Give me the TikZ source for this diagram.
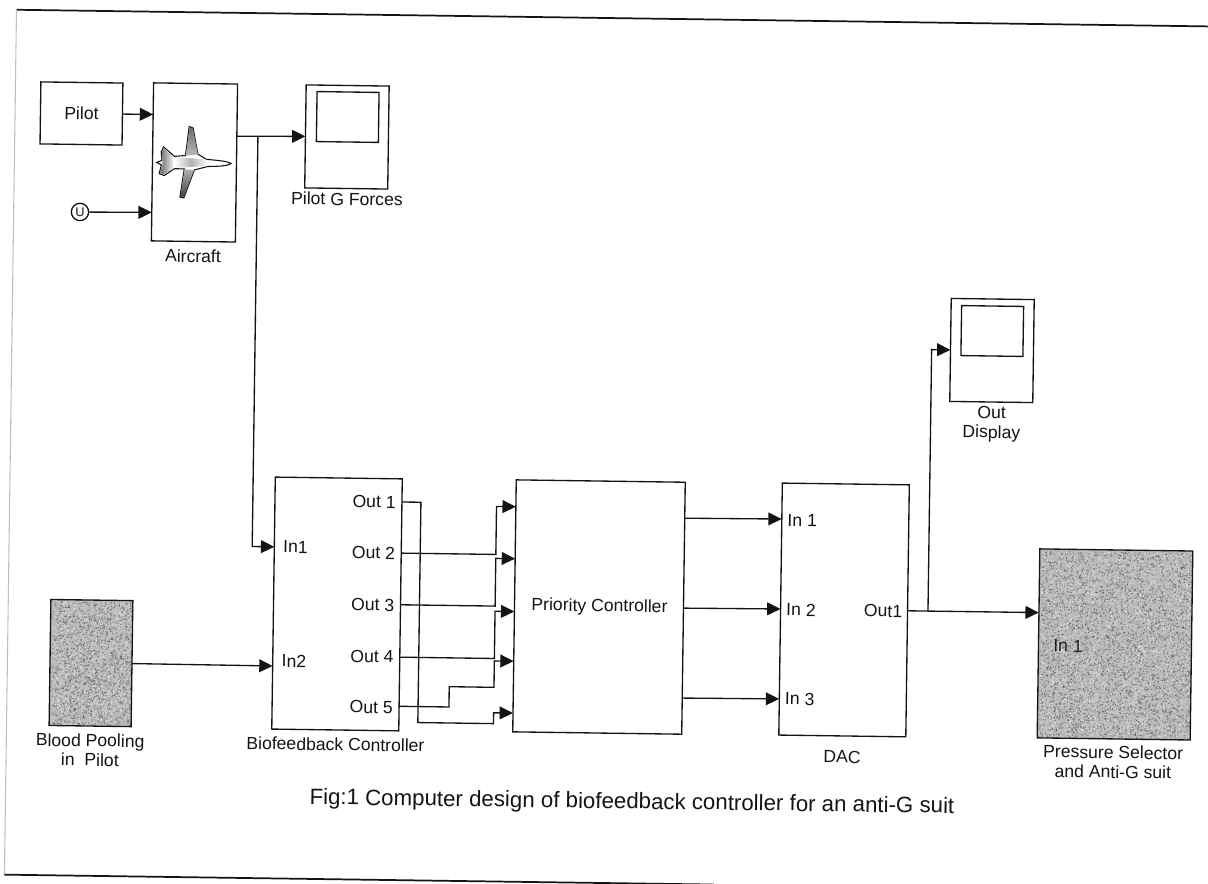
\documentclass[tikz,border=0pt]{standalone}
\usepackage{fontspec}
\setmainfont{Liberation Sans}
\usetikzlibrary{arrows.meta,calc}
\definecolor{ink}{gray}{0.08}
\tikzset{
  blockbox/.style 2 args={draw=ink,line width=1pt,fill=white,outer sep=0pt,inner sep=0pt,minimum width=#1*0.75pt,minimum height=#2*0.75pt},
  grainbox/.style 2 args={blockbox={#1}{#2},fill=gray!55},
  txt/.style={inner sep=0pt,outer sep=0pt,text=ink,align=center,font=\fontsize{13.2}{14.6}\selectfont},
  captiontext/.style={inner sep=0pt,outer sep=0pt,text=ink,font=\fontsize{16.7}{19}\selectfont},
  wire/.style={draw=ink,line width=1pt},
  sig/.style={wire,-{Triangle[length=10pt,width=9.6pt]}},
  papertop/.style={draw=ink,line width=1.3pt},
  paperleft/.style={draw=gray!50,line width=0.8pt},
}
\newcommand{\grain}[5]{% centre x, centre y, w, h, chunks of 800 dots
  \foreach \k in {1,...,#5} {
  \fill[white,opacity=.4] foreach \i in {1,...,800} {({#1+(rnd-.5)*(#3-3)},{#2+(rnd-.5)*(#4-3)}) rectangle ++(1.1,1.1)};
  \fill[black,opacity=.3] foreach \i in {1,...,800} {({#1+(rnd-.5)*(#3-3)},{#2+(rnd-.5)*(#4-3)}) rectangle ++(1.1,1.1)};
  }
}
\begin{document}
\begin{tikzpicture}[x=0.75pt,y=-0.75pt]
\useasboundingbox (0,0) rectangle (1208,884);
\clip (0,0) rectangle (1208,884);
\pgfmathsetseed{4242}
\begin{scope}[rotate around={-0.8:(604,442)},transform shape]
  % paper frame
  \draw[papertop] (1300,18) -- (10.5,18);
  \draw[paperleft] (10.5,18) -- (10.5,883);
  \draw[papertop] (10.5,883) -- (720,883);

  % blocks
  \node[blockbox={82}{62},txt] (pilot) at (76.9,120.8) {Pilot};
  \node[blockbox={84}{158}] (air) at (190.6,168.2) {};
  \node[blockbox={83}{103}] (gs) at (342.7,140.6) {};
  \node[blockbox={62}{50}] (gsin) at (343.2,120.6) {};
  \node[circle,draw=ink,line width=1pt,inner sep=0pt,outer sep=0pt,minimum size=13pt,font=\fontsize{9.5}{9.5}\selectfont,text=ink] (u) at (76.8,219.3) {U};
  \node[blockbox={127}{252}] (bio) at (339.3,607.7) {};
  \node[blockbox={169}{252}] (pri) at (601.3,607.1) {};
  \node[blockbox={127}{252}] (dac) at (846.4,606.6) {};
  \node[blockbox={83}{103}] (disp) at (990.7,345.1) {};
  \node[blockbox={62}{50}] (dispin) at (990.7,325.6) {};
  \node[grainbox={153}{189}] (press) at (1117.8,637.3) {};
  \node[grainbox={82}{126}] (blood) at (94.1,670.2) {};
  \grain{94.1}{670.2}{82}{126}{2}
  \grain{1117.8}{637.3}{153}{189}{5}

  % aircraft icon
  \begin{scope}[shift={(145.5,126.4)},x=0.25pt,y=-0.25pt]
    \path[fill=white,draw=ink,line width=0.8pt]
      (245,127) .. controls (230,118) and (190,118) .. (170,115)
      -- (145,100) -- (130,22) -- (118,18) -- (108,105) -- (75,108)
      -- (42,80) -- (35,95) -- (38,120) -- (22,127) -- (36,134)
      -- (30,160) -- (45,166) -- (75,145) -- (105,145) -- (93,230)
      -- (105,232) -- (135,148) -- (175,137)
      .. controls (200,136) and (232,136) .. (245,127) -- cycle;
    \path[top color=gray!85!black,bottom color=gray!55] (145,102) -- (130,24) -- (119,20) -- (109,105) -- cycle;
    \path[top color=gray!60,bottom color=gray!50!black] (106,146) -- (134,148) -- (104,230) -- (94,228) -- cycle;
    \path[left color=white,right color=white,middle color=gray!60] (75,110) -- (170,116) -- (175,135) -- (75,143) -- cycle;
    \path[left color=gray!85!black,right color=gray!10] (42,84) -- (72,110) -- (72,144) -- (45,163) -- (33,158) -- (40,132) -- (40,120) -- (37,95) -- cycle;
  \end{scope}

  % text in and under blocks
  \node[txt] (airl) at (190.4,261.8) {Aircraft};
  \node[txt] (gsl) at (343.6,202.6) {Pilot G Forces};
  \node[txt] (bloodl) at (94.4,757.2) {Blood Pooling\\in\ \ Pilot};
  \node[txt] (biol) at (339.7,748) {Biofeedback Controller};
  \node[txt] (in1l) at (297,551.3) {In1};
  \node[txt] (in2l) at (297,665.3) {In2};
  \node[txt] (o1l) at (375,505) {Out 1};
  \node[txt] (o2l) at (375,556) {Out 2};
  \node[txt] (o3l) at (375,608) {Out 3};
  \node[txt] (o4l) at (375,660) {Out 4};
  \node[txt] (o5l) at (375,710.3) {Out 5};
  \node[txt] (pril) at (601.8,607) {Priority Controller};
  \node[txt] (d1l) at (803.3,518) {In 1};
  \node[txt] (d2l) at (803.3,607.2) {In 2};
  \node[txt] (d3l) at (803.3,696.3) {In 3};
  \node[txt] (dol) at (885.4,607) {Out1};
  \node[txt] (dacl) at (846.4,753.6) {DAC};
  \node[txt] (displ) at (991.2,418.6) {Out\\Display};
  \node[txt] (pressl) at (1117.5,754.9) {Pressure Selector\\and Anti-G suit};
  \node[txt,text=gray!25!black] (presin) at (1070.9,639.5) {In 1};
  \node[captiontext] (caption) at (637,802.6) {Fig:1 Computer design of biofeedback controller for an anti-G suit};

  % ports
  \coordinate (a1) at ($(air.north west)!0.2!(air.south west)$);
  \coordinate (a2) at ($(air.north west)!0.82!(air.south west)$);
  \coordinate (aout) at ($(air.north east)!0.33!(air.south east)$);
  \coordinate (in1) at ($(bio.north west)!0.277!(bio.south west)$);
  \coordinate (in2) at ($(bio.north west)!0.75!(bio.south west)$);
  \coordinate (o1) at ($(bio.north east)!0.092!(bio.south east)$);
  \coordinate (o2) at ($(bio.north east)!0.295!(bio.south east)$);
  \coordinate (o3) at ($(bio.north east)!0.5!(bio.south east)$);
  \coordinate (o4) at ($(bio.north east)!0.708!(bio.south east)$);
  \coordinate (o5) at ($(bio.north east)!0.903!(bio.south east)$);
  \coordinate (p1) at ($(pri.north west)!0.107!(pri.south west)$);
  \coordinate (p2) at ($(pri.north west)!0.313!(pri.south west)$);
  \coordinate (p3) at ($(pri.north west)!0.523!(pri.south west)$);
  \coordinate (p4) at ($(pri.north west)!0.72!(pri.south west)$);
  \coordinate (p5) at ($(pri.north west)!0.926!(pri.south west)$);
  \coordinate (pq1) at ($(pri.north east)!0.143!(pri.south east)$);
  \coordinate (pq2) at ($(pri.north east)!0.5!(pri.south east)$);
  \coordinate (pq3) at ($(pri.north east)!0.857!(pri.south east)$);
  \coordinate (d1) at ($(dac.north west)!0.143!(dac.south west)$);
  \coordinate (d2) at ($(dac.north west)!0.5!(dac.south west)$);
  \coordinate (d3) at ($(dac.north west)!0.857!(dac.south west)$);
  \coordinate (press1) at (dac.east -| press.west);
  % bends
  \coordinate (brA) at (253.7,0 |- aout);
  \coordinate (busA) at (421.8,725.2);
  \coordinate (stepB) at (452.7,688.9);
  \coordinate (brB) at (930.4,0 |- dac.east);

  % connectors
  \draw[sig] (pilot.east) -- (a1);
  \draw[sig] (u.east) -- (a2);
  \draw[sig] (aout) -- (gs.west);
  \draw[sig] (brA) |- (in1);
  \draw[sig] (blood.east) -- (in2);
  \draw[sig] (o1) -| (busA) -| ($(p5)+(-19.3,0)$) -- (p5);
  \draw[sig] (o2) -| ($(p1)+(-19.3,0)$) -- (p1);
  \draw[sig] (o3) -| ($(p2)+(-19.3,0)$) -- (p2);
  \draw[sig] (o4) -| ($(p3)+(-19.3,0)$) -- (p3);
  \draw[sig] (o5) -| (stepB) -| ($(p4)+(-19.3,0)$) -- (p4);
  \draw[sig] (pq1) -- (d1);
  \draw[sig] (pq2) -- (d2);
  \draw[sig] (pq3) -- (d3);
  \draw[sig] (dac.east) -- (press1);
  \draw[sig] (brB) |- (disp.west);
\end{scope}
\end{tikzpicture}
\end{document}
